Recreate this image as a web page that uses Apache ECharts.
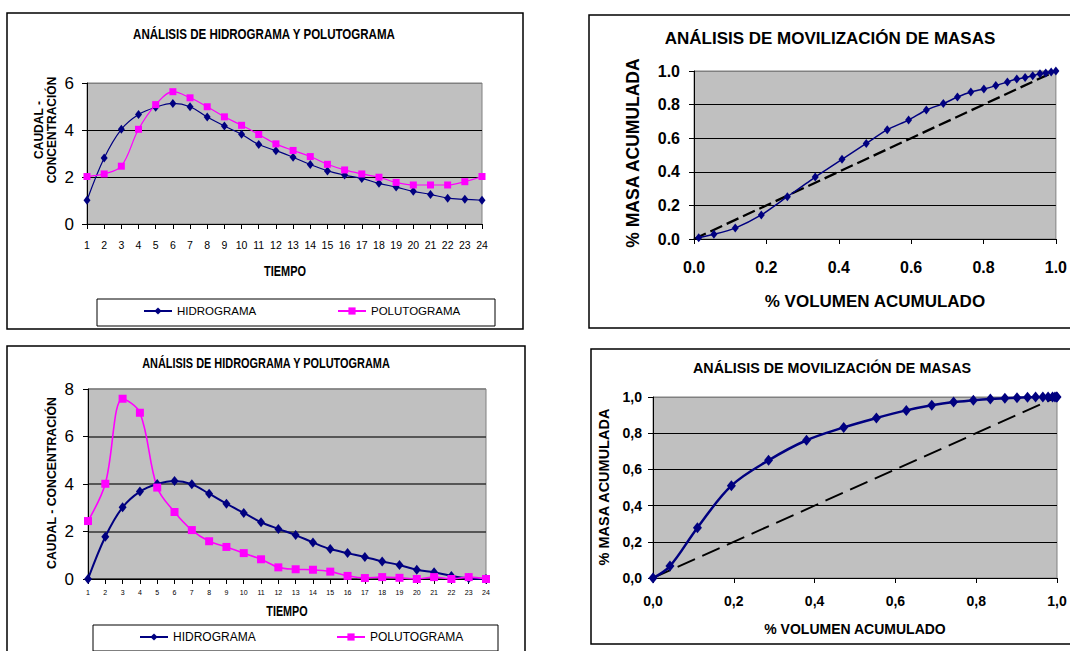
<!DOCTYPE html>
<html>
<head>
<meta charset="utf-8">
<script src="https://cdn.jsdelivr.net/npm/echarts@6/dist/echarts.min.js"></script>
<style>
  html, body { margin: 0; padding: 0; background: #fff; }
  #chart { width: 1070px; height: 651px; }
</style>
</head>
<body>
<div id="chart"></div>
<script>
// ---- data ----
const tiempo = ['1','2','3','4','5','6','7','8','9','10','11','12','13','14','15','16','17','18','19','20','21','22','23','24'];

// first event: hydrograph and pollutograph
const hidrogramaA  = [1.01, 2.81, 4.03, 4.66, 4.97, 5.13, 4.99, 4.55, 4.17, 3.82, 3.38, 3.12, 2.84, 2.53, 2.26, 2.08, 1.94, 1.73, 1.57, 1.39, 1.26, 1.10, 1.05, 1.01];
const polutogramaA = [2.02, 2.13, 2.46, 4.03, 5.08, 5.63, 5.37, 4.99, 4.56, 4.20, 3.81, 3.41, 3.13, 2.87, 2.54, 2.30, 2.13, 1.99, 1.77, 1.66, 1.66, 1.66, 1.80, 2.02];

// second event
const hidrogramaB  = [0.00, 1.78, 3.02, 3.68, 4.00, 4.13, 3.99, 3.59, 3.17, 2.78, 2.39, 2.11, 1.85, 1.54, 1.26, 1.09, 0.93, 0.74, 0.59, 0.39, 0.28, 0.13, 0.03, 0.00];
const polutogramaB = [2.44, 4.01, 7.59, 7.00, 3.85, 2.82, 2.06, 1.59, 1.35, 1.09, 0.83, 0.49, 0.41, 0.39, 0.31, 0.13, 0.04, 0.08, 0.05, 0.00, 0.08, 0.00, 0.08, 0.00];

// mass mobilisation curves (cumulative volume vs cumulative mass)
const volumenA = [0.013, 0.055, 0.114, 0.186, 0.258, 0.335, 0.409, 0.476, 0.534, 0.593, 0.642, 0.689, 0.728, 0.765, 0.801, 0.834, 0.866, 0.892, 0.915, 0.936, 0.956, 0.972, 0.987, 1.000];
const masaA    = [0.008, 0.028, 0.065, 0.143, 0.252, 0.369, 0.474, 0.569, 0.651, 0.708, 0.768, 0.806, 0.845, 0.875, 0.893, 0.913, 0.935, 0.952, 0.962, 0.972, 0.984, 0.988, 0.994, 1.000];

const volumenB = [0.000, 0.042, 0.110, 0.194, 0.286, 0.380, 0.472, 0.553, 0.627, 0.690, 0.744, 0.793, 0.835, 0.871, 0.901, 0.927, 0.947, 0.965, 0.978, 0.989, 0.995, 0.999, 1.000];
const masaB    = [0.000, 0.066, 0.278, 0.510, 0.650, 0.761, 0.832, 0.884, 0.926, 0.954, 0.972, 0.982, 0.989, 0.993, 0.996, 0.998, 1.000, 1.000, 1.000, 1.000, 1.000, 1.000, 1.000];

// 1:1 reference line
const diagonalX = [0, 1];
const diagonalY = [0, 1];

// ---- styling helpers ----
const ARIAL = "'Liberation Sans',Arial,Helvetica,sans-serif";
const NAVY = '#000080';
const PINK = '#FF00FF';
const PLOT_BG = '#C0C0C0';

const pairs = (xs, ys) => xs.map((x, i) => [x, ys[i]]);
const dot = v => v.toFixed(1);
const comma = v => v.toFixed(1).replace('.', ',');

// free text; sx squeezes the glyphs horizontally (condensed look of the hydrograph panels)
function label(x, y, text, size, weight, rotation, sx) {
  return {
    type: 'text', x: x, y: y, rotation: rotation || 0, scaleX: sx || 1, z: 50,
    style: {
      text: text, fill: '#000', align: 'center', verticalAlign: 'middle',
      fontSize: size, fontWeight: weight, fontFamily: ARIAL, lineHeight: size + 1
    }
  };
}
function box(x, y, w, h, lw) {
  return {
    type: 'rect', z: 40, silent: true,
    shape: { x: x, y: y, width: w, height: h },
    style: { fill: 'rgba(0,0,0,0)', stroke: '#000', lineWidth: lw }
  };
}

const chart = echarts.init(document.getElementById('chart'), null, { renderer: 'svg' });

const grids = [
  { left: 87,  top: 83,  width: 395, height: 141 },   // hydro A
  { left: 88,  top: 389, width: 398, height: 190 },   // hydro B
  { left: 694, top: 71,  width: 362, height: 168 },   // mass A
  { left: 653, top: 397, width: 404, height: 181 }    // mass B
].map(g => Object.assign(g, { show: true, backgroundColor: PLOT_BG, borderColor: '#808080', borderWidth: 1 }));

function catAxis(gi, labelSize, margin) {
  return {
    type: 'category', gridIndex: gi, data: tiempo, boundaryGap: false,
    axisLine: { lineStyle: { color: '#000', width: 1 } },
    axisTick: { show: true, interval: 0, length: 5, lineStyle: { color: '#000' } },
    axisLabel: { interval: 0, color: '#000', fontFamily: ARIAL, fontSize: labelSize, margin: margin },
    splitLine: { show: false }
  };
}
function valAxisY(gi, max, interval, size, weight, margin, fmt, gridColors, gridWidth) {
  return {
    type: 'value', gridIndex: gi, min: 0, max: max, interval: interval,
    axisLine: { show: true, lineStyle: { color: '#000', width: 1 } },
    axisTick: { show: true, length: 5, lineStyle: { color: '#000' } },
    axisLabel: { color: '#000', fontFamily: ARIAL, fontSize: size, fontWeight: weight, margin: margin, formatter: fmt },
    splitLine: { show: true, lineStyle: { color: gridColors, width: gridWidth } }
  };
}
function valAxisX(gi, size, margin, fmt, name, nameSize, nameGap) {
  return {
    type: 'value', gridIndex: gi, min: 0, max: 1, interval: 0.2,
    axisLine: { show: true, lineStyle: { color: '#000', width: 1 } },
    axisTick: { show: true, length: 5, lineStyle: { color: '#000' } },
    axisLabel: { color: '#000', fontFamily: ARIAL, fontWeight: 'bold', fontSize: size, margin: margin, formatter: fmt },
    splitLine: { show: false },
    name: name, nameLocation: 'middle', nameGap: nameGap,
    nameTextStyle: { color: '#000', fontFamily: ARIAL, fontWeight: 'bold', fontSize: nameSize }
  };
}

function legendItem(name, left, top, size) {
  return {
    data: [name], left: left, top: top, padding: 0, itemGap: 0,
    itemWidth: 28, itemHeight: 9, selectedMode: false,
    textStyle: { color: '#000', fontFamily: ARIAL, fontSize: size }
  };
}

const option = {
  animation: false,
  backgroundColor: '#fff',
  grid: grids,
  xAxis: [
    catAxis(0, 10.5, 15),
    catAxis(1, 7, 10),
    valAxisX(2, 16, 20, dot, '% VOLUMEN ACUMULADO', 17, 54),
    valAxisX(3, 14, 16, comma, '% VOLUMEN ACUMULADO', 14, 44)
  ],
  yAxis: [
    valAxisY(0, 6, 2, 17, 'normal', 13, null, ['#000', '#000', '#000', '#808080'], 1),
    valAxisY(1, 8, 2, 17, 'normal', 14, null, ['#333', '#333', '#333', '#333', '#808080'], 1.5),
    valAxisY(2, 1, 0.2, 16, 'bold', 14, dot, ['#000', '#000', '#000', '#000', '#000', '#808080'], 1),
    valAxisY(3, 1, 0.2, 14, 'bold', 11, comma, ['#000', '#000', '#000', '#000', '#000', '#808080'], 1)
  ],
  legend: [
    legendItem('HIDROGRAMA', 143, 305, 11.5),
    legendItem('POLUTOGRAMA', 337, 305, 11.5),
    legendItem('HIDROGRAMA', 139, 631, 12),
    legendItem('POLUTOGRAMA', 336, 631, 12)
  ],
  series: [
    {
      name: 'HIDROGRAMA', type: 'line', xAxisIndex: 0, yAxisIndex: 0, data: hidrogramaA,
      smooth: 0.35, symbol: 'diamond', symbolSize: [7, 9],
      lineStyle: { color: NAVY, width: 1.2 }, itemStyle: { color: NAVY }
    },
    {
      name: 'POLUTOGRAMA', type: 'line', xAxisIndex: 0, yAxisIndex: 0, data: polutogramaA,
      smooth: 0.35, symbol: 'rect', symbolSize: 7,
      lineStyle: { color: PINK, width: 1.2 }, itemStyle: { color: PINK }
    },
    {
      name: 'HIDROGRAMA', type: 'line', xAxisIndex: 1, yAxisIndex: 1, data: hidrogramaB,
      smooth: 0.35, symbol: 'diamond', symbolSize: [8, 10],
      lineStyle: { color: NAVY, width: 2 }, itemStyle: { color: NAVY }
    },
    {
      name: 'POLUTOGRAMA', type: 'line', xAxisIndex: 1, yAxisIndex: 1, data: polutogramaB,
      smooth: 0.35, symbol: 'rect', symbolSize: 8,
      lineStyle: { color: PINK, width: 1.6 }, itemStyle: { color: PINK }
    },
    {
      name: 'referencia A', type: 'line', xAxisIndex: 2, yAxisIndex: 2, data: pairs(diagonalX, diagonalY),
      symbol: 'none', lineStyle: { color: '#000', width: 2.3, type: [13, 5] }, z: 1
    },
    {
      name: 'masa A', type: 'line', xAxisIndex: 2, yAxisIndex: 2, data: pairs(volumenA, masaA),
      smooth: 0.2, symbol: 'diamond', symbolSize: [7, 9],
      lineStyle: { color: NAVY, width: 1.5 }, itemStyle: { color: NAVY }
    },
    {
      name: 'referencia B', type: 'line', xAxisIndex: 3, yAxisIndex: 3, data: pairs(diagonalX, diagonalY),
      symbol: 'none', lineStyle: { color: '#000', width: 1.9, type: [19, 8] }, z: 1
    },
    {
      name: 'masa B', type: 'line', xAxisIndex: 3, yAxisIndex: 3, data: pairs(volumenB, masaB),
      smooth: 0.35, symbol: 'diamond', symbolSize: [9, 11],
      lineStyle: { color: NAVY, width: 2.5 }, itemStyle: { color: NAVY }
    }
  ],
  graphic: [
    // outer chart frames
    box(7, 13, 516, 316, 1.5),
    box(7, 346, 518, 320, 1.5),
    box(589, 15, 500, 313, 1.5),
    box(591, 349, 500, 295, 1.5),
    // legend frames
    box(97, 299, 398, 27, 1),
    box(93, 625, 405, 26, 1),
    // chart titles
    label(264, 34, 'ANÁLISIS DE HIDROGRAMA Y POLUTOGRAMA', 15, 'bold', 0, 0.77),
    label(266, 364, 'ANÁLISIS DE HIDROGRAMA Y POLUTOGRAMA', 14, 'bold', 0, 0.78),
    label(830, 38, 'ANÁLISIS DE MOVILIZACIÓN DE MASAS', 17, 'bold'),
    label(832, 368, 'ANÁLISIS DE MOVILIZACIÓN DE MASAS', 14.3, 'bold'),
    // time axis titles
    label(285, 272, 'TIEMPO', 14, 'bold', 0, 0.78),
    label(287, 612, 'TIEMPO', 14, 'bold', 0, 0.77),
    // vertical axis titles
    label(45, 130, 'CAUDAL -\nCONCENTRACIÓN', 12, 'bold', Math.PI / 2),
    label(52, 483, 'CAUDAL - CONCENTRACIÓN', 12.3, 'bold', Math.PI / 2),
    label(633, 153, '% MASA ACUMULADA', 17.5, 'bold', Math.PI / 2),
    label(604, 487, '% MASA ACUMULADA', 14.5, 'bold', Math.PI / 2)
  ]
};

chart.setOption(option);
</script>
</body>
</html>
